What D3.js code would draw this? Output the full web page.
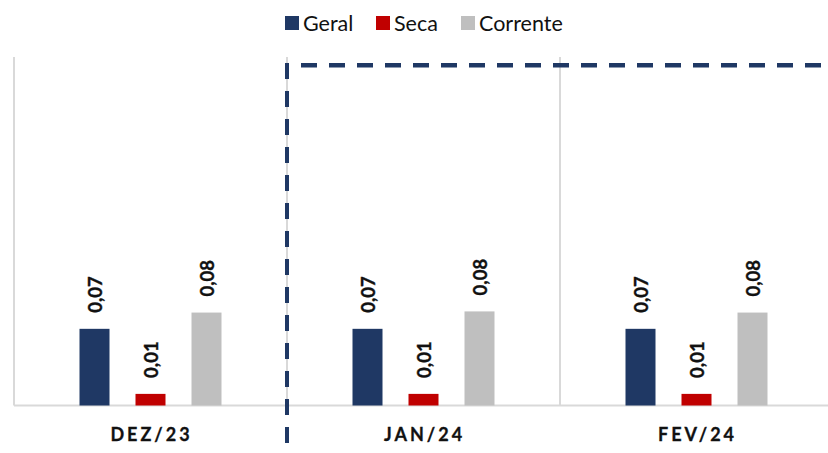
<!DOCTYPE html>
<html>
<head>
<meta charset="utf-8">
<script src="https://cdnjs.cloudflare.com/ajax/libs/d3/7.8.5/d3.min.js"></script>
<style>
    body { margin: 0; background: #fff; }
    svg { display: block; font-family: Lato, "Open Sans", sans-serif; }
</style>
</head>
<body>
<div id="chart"></div>
<script>
// data
var categories = ['DEZ/23', 'JAN/24', 'FEV/24'];
var seriesNames = ['Geral', 'Seca', 'Corrente'];
var seriesColors = ['#1f3864', '#c00000', '#bfbfbf'];
var geral = [0.066, 0.066, 0.066];
var seca = [0.010, 0.010, 0.010];
var corrente = [0.080, 0.081, 0.080];
var yMax = 0.3;
var markerLevel = 0.293; // dashed highlight line level

var width = 828, height = 453;
var margin = {top: 57, left: 14, bottom: 47};

var svg = d3.select('#chart').append('svg')
    .attr('width', width)
    .attr('height', height);

var x = d3.scaleBand()
    .domain(categories)
    .range([margin.left, margin.left + 273 * categories.length]);

var xs = d3.scalePoint()
    .domain(seriesNames)
    .range([-56, 56]);

var y = d3.scaleLinear()
    .domain([0, yMax])
    .range([height - margin.bottom - 0.5, margin.top]);

var barW = 30;
var fmt = function(v) { return d3.format('.2f')(v).replace('.', ','); };

// category separators
svg.selectAll('line.sep')
    .data(categories)
    .enter()
    .append('line')
    .attr('class', 'sep')
    .attr('x1', function(d) { return x(d); })
    .attr('x2', function(d) { return x(d); })
    .attr('y1', y(yMax))
    .attr('y2', y(0))
    .attr('stroke', '#d9d9d9')
    .attr('stroke-width', 2);

// baseline
svg.append('line')
    .attr('x1', x.range()[0])
    .attr('x2', width)
    .attr('y1', y(0))
    .attr('y2', y(0))
    .attr('stroke', '#d9d9d9')
    .attr('stroke-width', 2);

// bars
var data = [];
categories.forEach(function(c, i) {
    [geral, seca, corrente].forEach(function(arr, j) {
        data.push({cat: c, series: seriesNames[j], color: seriesColors[j], value: arr[i]});
    });
});

svg.selectAll('rect.bar')
    .data(data)
    .enter()
    .append('rect')
    .attr('class', 'bar')
    .attr('x', function(d) { return x(d.cat) + x.bandwidth() / 2 + xs(d.series) - barW / 2; })
    .attr('y', function(d) { return y(d.value); })
    .attr('width', barW)
    .attr('height', function(d) { return y(0) - y(d.value); })
    .attr('fill', function(d) { return d.color; });

// value labels (rotated)
svg.selectAll('text.val')
    .data(data)
    .enter()
    .append('text')
    .attr('class', 'val')
    .attr('transform', function(d) {
        var cx = x(d.cat) + x.bandwidth() / 2 + xs(d.series);
        return 'translate(' + (cx + 1) + ',' + (y(d.value) - 16) + ') rotate(-90)';
    })
    .attr('dy', '0.36em')
    .attr('font-size', 18.5)
    .attr('font-weight', 'bold')
    .attr('stroke', '#111')
    .attr('stroke-width', 0.4)
    .attr('fill', '#111')
    .text(function(d) { return fmt(d.value); });

// category labels
svg.selectAll('text.cat')
    .data(categories)
    .enter()
    .append('text')
    .attr('class', 'cat')
    .attr('x', function(d) { return x(d) + x.bandwidth() / 2 + 1; })
    .attr('y', 441)
    .attr('text-anchor', 'middle')
    .attr('font-size', 18)
    .attr('font-weight', 'bold')
    .attr('letter-spacing', 3)
    .attr('stroke', '#111')
    .attr('stroke-width', 0.3)
    .attr('fill', '#111')
    .text(function(d) { return d; });

// dashed highlight
var xDash = x(categories[1]);
svg.append('line')
    .attr('x1', xDash)
    .attr('x2', xDash)
    .attr('y1', 63)
    .attr('y2', 443)
    .attr('stroke', '#1f3864')
    .attr('stroke-width', 4)
    .attr('stroke-dasharray', '16,12');
svg.append('line')
    .attr('x1', xDash + 14)
    .attr('x2', width)
    .attr('y1', y(markerLevel))
    .attr('y2', y(markerLevel))
    .attr('stroke', '#1f3864')
    .attr('stroke-width', 4.5)
    .attr('stroke-dasharray', '16,12');

// legend
var legendX = [285, 376, 461];
var legend = svg.selectAll('g.legend')
    .data(seriesNames)
    .enter()
    .append('g')
    .attr('class', 'legend')
    .attr('transform', function(d, i) { return 'translate(' + legendX[i] + ',16)'; });

legend.append('rect')
    .attr('width', 14)
    .attr('height', 14)
    .attr('fill', function(d, i) { return seriesColors[i]; });

legend.append('text')
    .attr('x', 18)
    .attr('y', 14.5)
    .attr('font-size', 21.5)
    .attr('fill', '#111')
    .text(function(d) { return d; });
</script>
</body>
</html>
